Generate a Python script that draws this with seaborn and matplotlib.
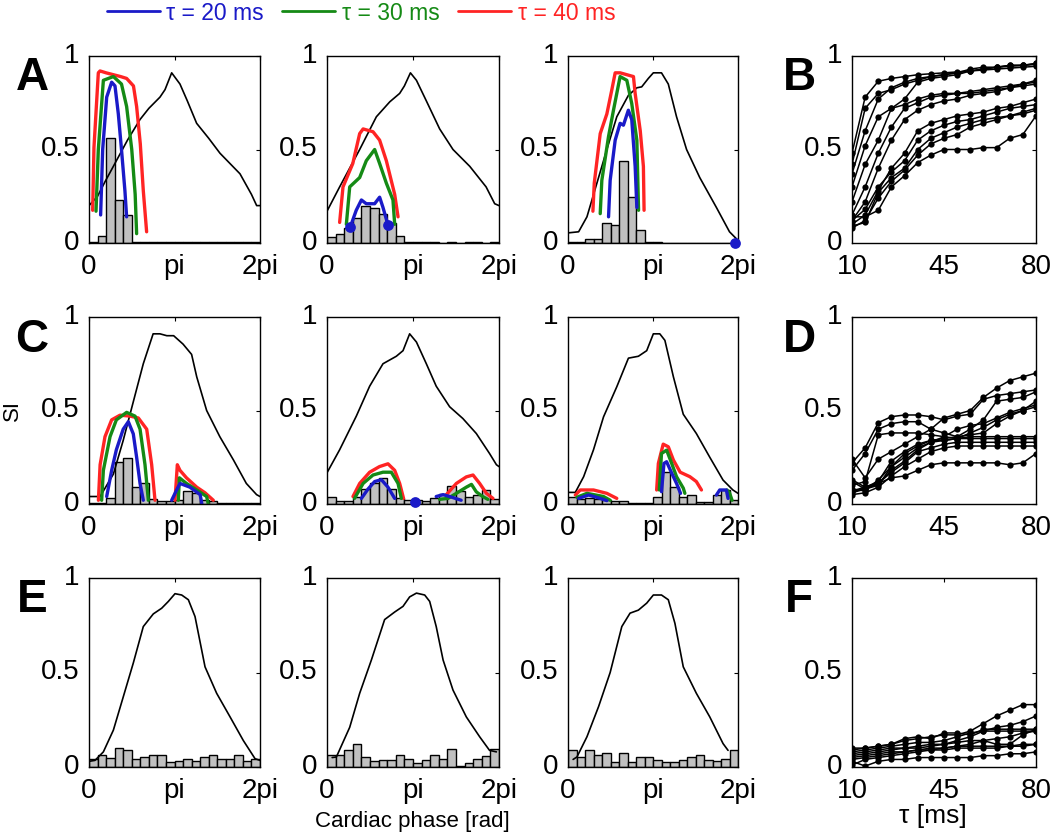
import numpy as np
import pandas as pd
import matplotlib.pyplot as plt
import matplotlib.transforms as mtrans
from matplotlib.lines import Line2D
import seaborn as sns

sns.set_style("white")
plt.rcParams['font.family'] = ['Liberation Sans', 'DejaVu Sans']
plt.rcParams['text.color'] = 'black'
plt.rcParams['axes.labelcolor'] = 'black'
plt.rcParams['xtick.color'] = 'black'
plt.rcParams['ytick.color'] = 'black'

BLUE = '#1a1ac8'
GREEN = '#158a15'
RED = '#ff2424'
GRAY = '#c0c0c0'

# phase values are in units of pi (0..2)
# ---------- row A ----------
a1_k_x = [0, 0.1, 0.19, 0.285, 0.45, 0.596, 0.7, 0.83, 0.889, 0.967, 1.064, 1.15, 1.259, 1.4, 1.532, 1.766, 1.9, 1.961, 2.0]
a1_k_y = [0.2, 0.25, 0.33, 0.41, 0.55, 0.66, 0.72, 0.78, 0.82, 0.91, 0.85, 0.76, 0.64, 0.56, 0.48, 0.37, 0.26, 0.20, 0.20]
a1_r_x = [[0.043, 0.058, 0.109, 0.129, 0.2, 0.285, 0.37, 0.44, 0.52, 0.557, 0.60, 0.635, 0.674]]
a1_r_y = [[0.175, 0.51, 0.91, 0.92, 0.91, 0.90, 0.89, 0.88, 0.84, 0.73, 0.53, 0.28, 0.06]]
a1_g_x = [[0.082, 0.109, 0.168, 0.285, 0.38, 0.44, 0.50, 0.54, 0.557]]
a1_g_y = [[0.17, 0.50, 0.87, 0.89, 0.85, 0.73, 0.50, 0.26, 0.05]]
a1_b_x = [[0.136, 0.16, 0.207, 0.265, 0.304, 0.343, 0.38, 0.42, 0.44]]
a1_b_y = [[0.15, 0.50, 0.78, 0.86, 0.84, 0.69, 0.50, 0.28, 0.14]]
a1_hist = [0.005, 0.04, 0.56, 0.23, 0.15, 0.005, 0.005, 0.005, 0.005, 0.005, 0.005, 0.005, 0.005, 0.005, 0.005, 0.005, 0.005, 0.005, 0.005, 0.005]

a2_k_x = [0, 0.147, 0.38, 0.574, 0.73, 0.845, 0.90, 0.97, 1.04, 1.155, 1.31, 1.465, 1.66, 1.85, 1.95, 2.0]
a2_k_y = [0.17, 0.30, 0.50, 0.675, 0.755, 0.80, 0.84, 0.91, 0.87, 0.76, 0.61, 0.50, 0.41, 0.30, 0.21, 0.20]
a2_r_x = [[0.147, 0.186, 0.30, 0.38, 0.42, 0.535, 0.612, 0.69, 0.787, 0.826]]
a2_r_y = [[0.11, 0.30, 0.425, 0.585, 0.61, 0.595, 0.55, 0.44, 0.26, 0.14]]
a2_g_x = [[0.225, 0.264, 0.38, 0.457, 0.554, 0.612, 0.69, 0.767, 0.787]]
a2_g_y = [[0.10, 0.30, 0.35, 0.44, 0.50, 0.425, 0.32, 0.23, 0.10]]
a2_b_x = [[0.271, 0.34, 0.40, 0.457, 0.554, 0.612, 0.651, 0.71]]
a2_b_y = [[0.086, 0.175, 0.23, 0.21, 0.21, 0.245, 0.19, 0.095]]
a2_dot_x = [0.271, 0.71]
a2_dot_y = [0.086, 0.095]
a2_hist = [0.03, 0.05, 0.08, 0.135, 0.20, 0.185, 0.155, 0.107, 0.04, 0.005, 0.005, 0.005, 0.005, 0, 0.005, 0, 0.005, 0.005, 0, 0.005]

a3_k_x = [0, 0.125, 0.223, 0.34, 0.457, 0.574, 0.711, 0.81, 0.867, 0.945, 1.004, 1.1, 1.18, 1.277, 1.395, 1.55, 1.746, 1.90, 2.0]
a3_k_y = [0.054, 0.06, 0.14, 0.32, 0.50, 0.675, 0.79, 0.83, 0.835, 0.88, 0.91, 0.91, 0.85, 0.675, 0.50, 0.35, 0.19, 0.06, 0.014]
a3_r_x = [[0.293, 0.309, 0.379, 0.457, 0.516, 0.555, 0.613, 0.692, 0.77, 0.79, 0.85, 0.887, 0.895]]
a3_r_y = [[0.17, 0.32, 0.585, 0.69, 0.82, 0.91, 0.91, 0.90, 0.89, 0.80, 0.60, 0.41, 0.175]]
a3_g_x = [[0.379, 0.398, 0.477, 0.535, 0.613, 0.692, 0.75, 0.81, 0.83]]
a3_g_y = [[0.157, 0.335, 0.57, 0.71, 0.89, 0.87, 0.746, 0.55, 0.175]]
a3_b_x = [[0.477, 0.496, 0.555, 0.613, 0.652, 0.71, 0.75, 0.79, 0.81]]
a3_b_y = [[0.14, 0.335, 0.55, 0.64, 0.63, 0.71, 0.66, 0.41, 0.19]]
a3_dot_x = [1.96]
a3_dot_y = [0.0]
a3_hist = [0.004, 0.004, 0.02, 0.02, 0.107, 0.095, 0.44, 0.246, 0.068, 0.005, 0.005, 0, 0, 0, 0, 0, 0, 0, 0, 0]

# ---------- row C ----------
c1_k_x = [0, 0.13, 0.285, 0.40, 0.52, 0.635, 0.75, 0.83, 0.91, 0.99, 1.10, 1.20, 1.26, 1.376, 1.53, 1.69, 1.84, 1.96, 2.0]
c1_k_y = [0.04, 0.04, 0.16, 0.34, 0.55, 0.75, 0.91, 0.91, 0.90, 0.90, 0.855, 0.80, 0.68, 0.50, 0.36, 0.235, 0.11, 0.05, 0.04]
c1_r_x = [[0.11, 0.13, 0.187, 0.265, 0.363, 0.48, 0.577, 0.675, 0.733, 0.772], [1.006, 1.033, 1.064, 1.14, 1.26, 1.357, 1.454]]
c1_r_y = [[0.02, 0.21, 0.36, 0.45, 0.475, 0.47, 0.46, 0.40, 0.21, 0.02], [0.02, 0.21, 0.18, 0.14, 0.09, 0.06, 0.02]]
c1_g_x = [[0.148, 0.168, 0.246, 0.32, 0.44, 0.538, 0.597, 0.655, 0.694], [1.045, 1.057, 1.14, 1.26, 1.376, 1.395]]
c1_g_y = [[0.02, 0.18, 0.36, 0.45, 0.49, 0.47, 0.40, 0.21, 0.02], [0.02, 0.14, 0.11, 0.075, 0.04, 0.0]]
c1_b_x = [[0.207, 0.265, 0.32, 0.40, 0.46, 0.518, 0.557, 0.597, 0.635], [0.967, 1.025, 1.064, 1.18, 1.30, 1.32]]
c1_b_y = [[0.04, 0.18, 0.29, 0.40, 0.44, 0.375, 0.25, 0.11, 0.02], [0.02, 0.075, 0.11, 0.09, 0.05, 0.0]]
c1_hist = [0.005, 0.005, 0.03, 0.225, 0.245, 0.093, 0.114, 0.025, 0.014, 0.014, 0.02, 0.07, 0.06, 0.02, 0.018, 0.005, 0.005, 0.005, 0.005, 0.005]

c2_k_x = [0, 0.147, 0.341, 0.496, 0.651, 0.806, 0.884, 0.961, 1.04, 1.155, 1.27, 1.426, 1.58, 1.736, 1.89, 1.97, 2.0]
c2_k_y = [0.167, 0.29, 0.47, 0.63, 0.75, 0.79, 0.82, 0.91, 0.866, 0.75, 0.63, 0.52, 0.457, 0.377, 0.27, 0.21, 0.20]
c2_r_x = [[0.302, 0.38, 0.496, 0.61, 0.709, 0.787, 0.845, 0.89], [1.388, 1.504, 1.62, 1.698, 1.775, 1.853, 1.93]]
c2_r_y = [[0.04, 0.11, 0.17, 0.20, 0.215, 0.18, 0.11, 0.03], [0.05, 0.11, 0.145, 0.155, 0.11, 0.057, 0.03]]
c2_g_x = [[0.32, 0.42, 0.535, 0.651, 0.748, 0.826, 0.864], [1.31, 1.407, 1.504, 1.62, 1.68, 1.736, 1.81, 1.87]]
c2_g_y = [[0.03, 0.11, 0.155, 0.17, 0.17, 0.11, 0.03], [0.025, 0.03, 0.057, 0.09, 0.105, 0.065, 0.04, 0.025]]
c2_b_x = [[0.40, 0.477, 0.554, 0.632, 0.709, 0.787], [1.27, 1.35, 1.426, 1.56]]
c2_b_y = [[0.03, 0.08, 0.12, 0.13, 0.09, 0.03], [0.04, 0.05, 0.04, 0.02]]
c2_dot_x = [1.02]
c2_dot_y = [0.012]
c2_hist = [0.04, 0.018, 0.018, 0.04, 0.078, 0.11, 0.137, 0.08, 0.03, 0.02, 0.02, 0.018, 0.03, 0.053, 0.096, 0.07, 0.04, 0.048, 0.075, 0.025]

c3_k_x = [0, 0.086, 0.184, 0.30, 0.418, 0.574, 0.711, 0.828, 0.926, 1.004, 1.08, 1.14, 1.24, 1.356, 1.51, 1.668, 1.824, 1.94, 2.0]
c3_k_y = [0.062, 0.062, 0.146, 0.29, 0.466, 0.627, 0.78, 0.79, 0.82, 0.91, 0.91, 0.875, 0.68, 0.48, 0.377, 0.25, 0.128, 0.075, 0.057]
c3_r_x = [[0.086, 0.145, 0.30, 0.457, 0.574], [1.043, 1.063, 1.12, 1.18, 1.24, 1.32, 1.434, 1.51, 1.57]]
c3_r_y = [[0.048, 0.075, 0.075, 0.057, 0.03], [0.075, 0.217, 0.32, 0.306, 0.235, 0.17, 0.146, 0.12, 0.075]]
c3_g_x = [[0.105, 0.223, 0.418, 0.496], [1.074, 1.10, 1.16, 1.22, 1.277, 1.356, 1.375], [1.87, 1.90, 1.93]]
c3_g_y = [[0.036, 0.057, 0.04, 0.02], [0.075, 0.27, 0.288, 0.217, 0.146, 0.085, 0.057], [0.075, 0.06, 0.02]]
c3_b_x = [[0.125, 0.242, 0.379, 0.457], [1.10, 1.129, 1.16, 1.22, 1.277, 1.324], [1.746, 1.785, 1.863, 1.883]]
c3_b_y = [[0.03, 0.048, 0.03, 0.018], [0.066, 0.217, 0.226, 0.165, 0.11, 0.057], [0.048, 0.075, 0.075, 0.03]]
c3_hist = [0.04, 0.025, 0.03, 0.025, 0.02, 0.018, 0.018, 0.004, 0.004, 0.004, 0.04, 0.173, 0.093, 0.04, 0.048, 0.012, 0.012, 0.048, 0.075, 0.02]

# ---------- row E ----------
e1_k_x = [0, 0.07, 0.168, 0.285, 0.40, 0.518, 0.635, 0.752, 0.85, 0.928, 1.006, 1.084, 1.162, 1.24, 1.357, 1.493, 1.65, 1.805, 1.942, 2.0]
e1_k_y = [0.03, 0.035, 0.08, 0.195, 0.37, 0.55, 0.743, 0.81, 0.84, 0.876, 0.917, 0.91, 0.885, 0.796, 0.53, 0.39, 0.265, 0.14, 0.044, 0.035]
e1_hist = [0.042, 0.062, 0.048, 0.101, 0.088, 0.042, 0.053, 0.062, 0.062, 0.027, 0.032, 0.044, 0.032, 0.053, 0.062, 0.042, 0.042, 0.062, 0.032, 0.042]

e2_k_x = [0.06, 0.109, 0.264, 0.38, 0.516, 0.67, 0.787, 0.884, 0.961, 1.04, 1.136, 1.194, 1.27, 1.35, 1.465, 1.62, 1.775, 1.89, 1.97]
e2_k_y = [0.05, 0.053, 0.21, 0.39, 0.566, 0.78, 0.82, 0.85, 0.90, 0.92, 0.91, 0.876, 0.743, 0.566, 0.407, 0.265, 0.16, 0.088, 0.08]
e2_hist = [0.065, 0.065, 0.088, 0.12, 0.053, 0.032, 0.039, 0.039, 0.065, 0.042, 0.023, 0.039, 0.065, 0.042, 0.097, 0.004, 0.023, 0.042, 0.057, 0.097]

e3_k_x = [0.06, 0.105, 0.223, 0.36, 0.496, 0.633, 0.73, 0.828, 0.926, 1.004, 1.1, 1.18, 1.258, 1.356, 1.51, 1.668, 1.824, 1.883]
e3_k_y = [0.04, 0.053, 0.16, 0.32, 0.5, 0.743, 0.814, 0.83, 0.867, 0.91, 0.91, 0.885, 0.76, 0.53, 0.39, 0.265, 0.124, 0.088]
e3_hist = [0.088, 0.053, 0.088, 0.062, 0.074, 0.027, 0.074, 0.027, 0.053, 0.053, 0.039, 0.027, 0.027, 0.039, 0.053, 0.062, 0.039, 0.032, 0.044, 0.088]

# ---------- right column: SI vs tau ----------
tau = [10, 15, 20, 25, 30, 35, 40, 45, 50, 55, 60, 65, 70, 75, 80]
b_curves = [
    [0.48, 0.78, 0.865, 0.88, 0.89, 0.90, 0.905, 0.91, 0.915, 0.92, 0.925, 0.93, 0.935, 0.94, 0.945],
    [0.42, 0.72, 0.80, 0.82, 0.85, 0.87, 0.89, 0.90, 0.91, 0.93, 0.94, 0.94, 0.95, 0.95, 0.96],
    [0.37, 0.60, 0.77, 0.83, 0.86, 0.88, 0.89, 0.90, 0.91, 0.92, 0.93, 0.94, 0.95, 0.95, 0.96],
    [0.30, 0.52, 0.675, 0.72, 0.77, 0.86, 0.88, 0.89, 0.90, 0.92, 0.93, 0.94, 0.945, 0.95, 0.955],
    [0.22, 0.42, 0.55, 0.72, 0.74, 0.77, 0.79, 0.80, 0.80, 0.81, 0.82, 0.83, 0.84, 0.85, 0.87],
    [0.15, 0.30, 0.48, 0.62, 0.72, 0.75, 0.78, 0.79, 0.80, 0.80, 0.81, 0.82, 0.83, 0.85, 0.86],
    [0.12, 0.22, 0.40, 0.55, 0.66, 0.71, 0.74, 0.76, 0.77, 0.79, 0.80, 0.81, 0.83, 0.84, 0.85],
    [0.10, 0.15, 0.28, 0.40, 0.48, 0.60, 0.64, 0.66, 0.68, 0.69, 0.70, 0.72, 0.73, 0.75, 0.77],
    [0.12, 0.18, 0.30, 0.38, 0.44, 0.55, 0.60, 0.63, 0.65, 0.66, 0.68, 0.70, 0.72, 0.73, 0.74],
    [0.08, 0.12, 0.24, 0.33, 0.39, 0.47, 0.53, 0.56, 0.58, 0.62, 0.64, 0.66, 0.68, 0.70, 0.72],
    [0.09, 0.11, 0.27, 0.35, 0.40, 0.50, 0.56, 0.59, 0.62, 0.64, 0.66, 0.67, 0.68, 0.69, 0.71],
    [0.14, 0.14, 0.175, 0.30, 0.36, 0.43, 0.47, 0.50, 0.50, 0.50, 0.51, 0.51, 0.56, 0.58, 0.68],
]
d_curves = [
    [0.24, 0.14, 0.24, 0.28, 0.32, 0.36, 0.40, 0.46, 0.48, 0.50, 0.57, 0.62, 0.66, 0.68, 0.70],
    [0.22, 0.30, 0.435, 0.467, 0.476, 0.476, 0.467, 0.45, 0.47, 0.48, 0.56, 0.58, 0.59, 0.60, 0.61],
    [0.18, 0.27, 0.40, 0.43, 0.44, 0.44, 0.40, 0.38, 0.36, 0.40, 0.45, 0.55, 0.56, 0.57, 0.60],
    [0.10, 0.12, 0.37, 0.38, 0.38, 0.38, 0.37, 0.36, 0.35, 0.36, 0.36, 0.36, 0.36, 0.36, 0.36],
    [0.12, 0.08, 0.10, 0.20, 0.25, 0.30, 0.33, 0.34, 0.35, 0.38, 0.41, 0.45, 0.48, 0.50, 0.55],
    [0.08, 0.07, 0.13, 0.20, 0.27, 0.31, 0.34, 0.35, 0.36, 0.37, 0.38, 0.43, 0.47, 0.50, 0.52],
    [0.07, 0.09, 0.12, 0.23, 0.28, 0.32, 0.34, 0.34, 0.35, 0.35, 0.35, 0.35, 0.35, 0.35, 0.35],
    [0.06, 0.08, 0.11, 0.17, 0.22, 0.28, 0.30, 0.32, 0.33, 0.33, 0.33, 0.33, 0.33, 0.33, 0.33],
    [0.05, 0.06, 0.09, 0.15, 0.20, 0.24, 0.28, 0.30, 0.31, 0.31, 0.31, 0.31, 0.31, 0.31, 0.31],
    [0.07, 0.08, 0.11, 0.14, 0.15, 0.18, 0.21, 0.22, 0.22, 0.22, 0.22, 0.22, 0.21, 0.22, 0.27],
    [0.13, 0.09, 0.11, 0.18, 0.23, 0.29, 0.33, 0.36, 0.40, 0.42, 0.43, 0.46, 0.49, 0.51, 0.53],
]
f_curves = [
    [0.10, 0.10, 0.11, 0.12, 0.14, 0.15, 0.16, 0.17, 0.17, 0.19, 0.23, 0.27, 0.30, 0.33, 0.33],
    [0.09, 0.10, 0.11, 0.12, 0.15, 0.16, 0.15, 0.18, 0.18, 0.17, 0.20, 0.20, 0.20, 0.20, 0.20],
    [0.08, 0.09, 0.10, 0.11, 0.12, 0.13, 0.13, 0.14, 0.16, 0.18, 0.19, 0.21, 0.22, 0.24, 0.27],
    [0.07, 0.08, 0.09, 0.10, 0.10, 0.11, 0.12, 0.12, 0.14, 0.16, 0.19, 0.19, 0.19, 0.19, 0.19],
    [0.06, 0.07, 0.08, 0.09, 0.10, 0.10, 0.11, 0.12, 0.13, 0.14, 0.14, 0.12, 0.12, 0.17, 0.20],
    [0.05, 0.06, 0.07, 0.08, 0.08, 0.09, 0.10, 0.10, 0.11, 0.11, 0.11, 0.11, 0.11, 0.12, 0.12],
    [0.04, 0.05, 0.06, 0.07, 0.08, 0.09, 0.09, 0.09, 0.10, 0.10, 0.10, 0.10, 0.11, 0.11, 0.12],
    [0.03, 0.005, 0.03, 0.04, 0.04, 0.05, 0.05, 0.05, 0.05, 0.05, 0.06, 0.06, 0.07, 0.07, 0.08],
    [0.01, 0.04, 0.05, 0.06, 0.07, 0.08, 0.09, 0.10, 0.11, 0.12, 0.14, 0.15, 0.16, 0.18, 0.19],
]

# figure layout in pixels (figure is 1050 x 840)
W, H = 1050, 840
cols_px = [(89, 260), (327, 499), (568, 738), (852, 1036)]
rows_px = [(56, 243), (317, 504), (578, 767)]

fig = plt.figure(figsize=(10.5, 8.4), dpi=100)
# y tick labels sit a little above their ticks, like the original export
ylab_shift = mtrans.ScaledTranslation(0, 2.5 / 72, fig.dpi_scale_trans)


def make_ax(c, r):
    x0, x1 = cols_px[c]
    y0, y1 = rows_px[r]
    ax = fig.add_axes([x0 / W, 1 - y1 / H, (x1 - x0) / W, (y1 - y0) / H])
    for s in ax.spines.values():
        s.set_visible(True)
        s.set_color('black')
        s.set_linewidth(1.0)
    ax.tick_params(direction='in', top=True, right=True, length=3, width=0.8,
                   labelsize=20, colors='black')
    ax.tick_params(axis='x', pad=8)
    ax.tick_params(axis='y', pad=7)
    return ax


def finish(ax, xlim, xticks, xlabels):
    ax.set_xlim(*xlim)
    ax.set_ylim(0, 1)
    ax.set_xticks(xticks)
    ax.set_xticklabels(xlabels)
    ax.set_yticks([0, 0.5, 1])
    ax.set_yticklabels(['0', '0.5', '1'])
    for lab in ax.get_yticklabels():
        lab.set_transform(lab.get_transform() + ylab_shift)
    ax.set_xlabel('')
    ax.set_ylabel('')


def phase_panel(ax, kx, ky, hist, rx=(), ry=(), gx=(), gy=(), bx=(), by=(), dx=(), dy=()):
    n = len(hist)
    width = 2 * np.pi / n
    hdf = pd.DataFrame({'phase': (np.arange(n) + 0.5) * width, 'w': hist})
    sns.histplot(data=hdf, x='phase', weights='w', bins=n, binrange=(0, 2 * np.pi),
                 ax=ax, color=GRAY, edgecolor='black', linewidth=1.0, alpha=1)
    sns.lineplot(x=np.array(kx) * np.pi, y=ky, ax=ax, color='black', lw=1.2)
    for xs, ys, col in [(rx, ry, RED), (gx, gy, GREEN), (bx, by, BLUE)]:
        for x, y in zip(xs, ys):
            sns.lineplot(x=np.array(x) * np.pi, y=y, ax=ax, color=col, lw=2.4)
    if len(dx):
        sns.scatterplot(x=np.array(dx) * np.pi, y=dy, ax=ax, color=BLUE, s=60,
                        linewidth=0, zorder=5, clip_on=False)
    finish(ax, (0, 2 * np.pi), [0, np.pi, 2 * np.pi], ['0', 'pi', '2pi'])


def tau_panel(ax, curves):
    rows = []
    for i, c in enumerate(curves):
        for t, v in zip(tau, c):
            rows.append({'cell': i, 'tau': t, 'si': v})
    df = pd.DataFrame(rows)
    sns.lineplot(data=df, x='tau', y='si', units='cell', estimator=None, ax=ax,
                 color='black', lw=1.1, marker='o', markersize=4.5,
                 markeredgewidth=0, legend=False)
    finish(ax, (10, 80), [10, 45, 80], ['10', '45', '80'])


ax = make_ax(0, 0)
phase_panel(ax, a1_k_x, a1_k_y, a1_hist, a1_r_x, a1_r_y, a1_g_x, a1_g_y, a1_b_x, a1_b_y)
ax = make_ax(1, 0)
phase_panel(ax, a2_k_x, a2_k_y, a2_hist, a2_r_x, a2_r_y, a2_g_x, a2_g_y, a2_b_x, a2_b_y, a2_dot_x, a2_dot_y)
ax = make_ax(2, 0)
phase_panel(ax, a3_k_x, a3_k_y, a3_hist, a3_r_x, a3_r_y, a3_g_x, a3_g_y, a3_b_x, a3_b_y, a3_dot_x, a3_dot_y)
ax = make_ax(3, 0)
tau_panel(ax, b_curves)

ax = make_ax(0, 1)
phase_panel(ax, c1_k_x, c1_k_y, c1_hist, c1_r_x, c1_r_y, c1_g_x, c1_g_y, c1_b_x, c1_b_y)
ax = make_ax(1, 1)
phase_panel(ax, c2_k_x, c2_k_y, c2_hist, c2_r_x, c2_r_y, c2_g_x, c2_g_y, c2_b_x, c2_b_y, c2_dot_x, c2_dot_y)
ax = make_ax(2, 1)
phase_panel(ax, c3_k_x, c3_k_y, c3_hist, c3_r_x, c3_r_y, c3_g_x, c3_g_y, c3_b_x, c3_b_y)
ax = make_ax(3, 1)
tau_panel(ax, d_curves)

ax = make_ax(0, 2)
phase_panel(ax, e1_k_x, e1_k_y, e1_hist)
ax = make_ax(1, 2)
phase_panel(ax, e2_k_x, e2_k_y, e2_hist)
ax = make_ax(2, 2)
phase_panel(ax, e3_k_x, e3_k_y, e3_hist)
ax = make_ax(3, 2)
tau_panel(ax, f_curves)

# panel letters
for letter, (px, py) in {'A': (32, 78), 'C': (32, 340), 'E': (32, 600),
                         'B': (799, 78), 'D': (799, 340), 'F': (799, 600)}.items():
    fig.text(px / W, 1 - py / H, letter, fontsize=33, fontweight='bold',
             ha='center', va='center')

fig.text(12 / W, 1 - 410 / H, 'SI', fontsize=16, rotation=90, ha='center', va='center')
fig.text(412 / W, 1 - 821 / H, 'Cardiac phase [rad]', fontsize=16, ha='center', va='center')
fig.text(933 / W, 1 - 816 / H, 'τ [ms]', fontsize=19, ha='center', va='center')

# legend at top
handles = [Line2D([], [], color=BLUE, lw=2), Line2D([], [], color=GREEN, lw=2),
           Line2D([], [], color=RED, lw=2)]
labels = ['τ = 20 ms', 'τ = 30 ms', 'τ = 40 ms']
leg = fig.legend(handles, labels, ncol=3, frameon=False, fontsize=16.5,
                 loc='center', bbox_to_anchor=(361 / W, 1 - 13 / H),
                 handlelength=2.3, handletextpad=0.3, columnspacing=0.8)
for txt, col in zip(leg.get_texts(), [BLUE, GREEN, RED]):
    txt.set_color(col)

plt.savefig('out.png', dpi=100)
plt.close()
